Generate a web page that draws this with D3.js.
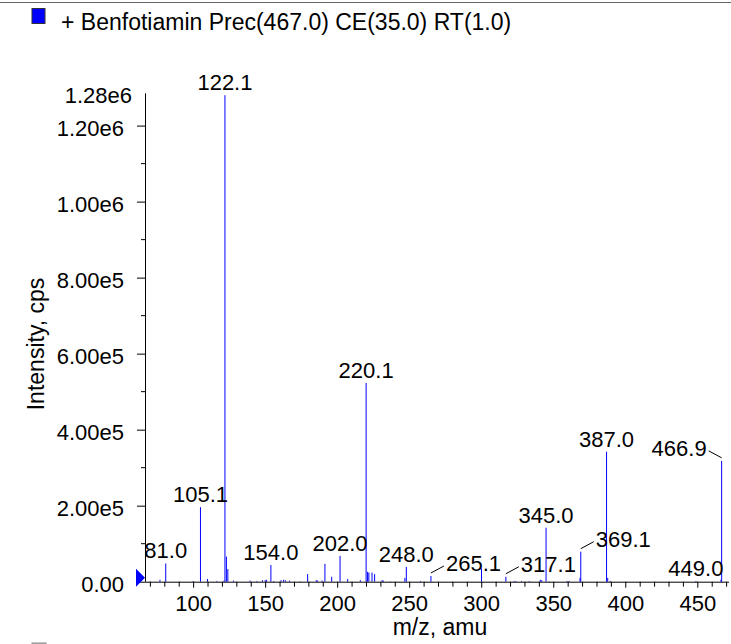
<!DOCTYPE html>
<html lang="en">
<head>
<meta charset="utf-8">
<title>Benfotiamin MS/MS</title>
<script src="https://cdn.jsdelivr.net/npm/d3@7"></script>
<style>
  body { margin: 0; background: #fff; }
  svg { display: block; font-family: "Liberation Sans", Arial, Helvetica, sans-serif; }
</style>
</head>
<body>
<div id="grafica"></div>
<script>
// spectrum: m/z and intensity (cps)
var mz = [77.0, 81.0, 100.0, 105.1, 110.0, 116.5, 121.5, 122.1, 123.1, 124.1,
          128.0, 139.5, 144.3, 148.1, 150.0, 151.0, 154.0, 156.0, 161.0, 162.8,
          164.0, 167.0, 174.4, 179.5, 185.5, 186.4, 189.5, 191.5, 196.2, 202.0,
          207.3, 216.1, 220.1, 221.1, 222.0, 224.2, 226.0, 231.2, 232.0, 237.0,
          247.0, 248.0, 257.9, 265.1, 300.2, 317.1, 322.7, 324.0, 328.0, 333.3,
          341.0, 342.0, 345.0, 347.2, 359.5, 361.0, 368.6, 369.1, 387.0, 387.8,
          389.5, 449.0, 466.4, 466.9];
var intensity = [5e3, 4.8e4, 2e3, 1.96e5, 7e3, 2e3, 3e3, 1.28e6, 6.6e4, 3.3e4,
                 3e3, 3e3, 2e3, 4e3, 4e3, 5e3, 4.4e4, 2e3, 4e3, 5e3,
                 4e3, 3e3, 1e3, 2e4, 4e3, 3e3, 3e3, 4.7e4, 1.3e4, 6.8e4,
                 7e3, 4e3, 5.23e5, 2.6e4, 2.4e4, 2.4e4, 2e4, 4e3, 3e3, 1e3,
                 1e4, 3.9e4, 2e3, 1.5e4, 3.5e4, 1.3e4, 2e3, 2e3, 2e3, 2e3,
                 5e3, 4e3, 1.42e5, 1e3, 2e3, 2e3, 1e4, 7.9e4, 3.42e5, 1e4,
                 2e3, 2e3, 5e3, 3.18e5];

// peaks carrying a label
var labelled = ["81.0", "105.1", "122.1", "154.0", "202.0", "220.1", "248.0", "265.1",
                "317.1", "345.0", "369.1", "387.0", "449.0", "466.9"];
// labels pushed aside with a short leader line (+1 right, -1 left)
var leader = { "265.1": 1, "317.1": 1, "369.1": 1, "466.9": -1 };

var xMajor = [100, 150, 200, 250, 300, 350, 400, 450];
var xMinor = d3.range(70, 471, 10);
var yMajor = [0, 2e5, 4e5, 6e5, 8e5, 1e6, 1.2e6];
var yMinor = [1e5, 3e5, 5e5, 7e5, 9e5, 1.1e6];
var yTop = 1.28e6;

var legendText = "+ Benfotiamin Prec(467.0) CE(35.0) RT(1.0)";

var w = 731, h = 644;
var pLeft = 145, pRight = 729, pBottom = 581.7, pTop = 93.3;

var svg = d3.select("#grafica").append("svg")
  .attr("width", w).attr("height", h);

var x = d3.scaleLinear().domain([66.6, 472]).range([pLeft, pRight]);
var y = d3.scaleLinear().domain([0, 1.285e6]).range([pBottom, pTop]);

// frame line at the very top
svg.append("line").attr("x1", 0).attr("x2", w).attr("y1", 2.5).attr("y2", 2.5)
  .attr("stroke", "#666").attr("stroke-width", 1.2);

// legend
svg.append("rect").attr("x", 32).attr("y", 8.5).attr("width", 13).attr("height", 15)
  .attr("fill", "#0000ff").attr("stroke", "#333");
svg.append("text").attr("x", 61).attr("y", 30).attr("font-size", 23).text(legendText);

// peaks
var peaks = mz.map(function(m, i){ return { mz: m, v: intensity[i] }; });
svg.append("g").selectAll("line")
  .data(peaks).enter().append("line")
  .attr("x1", function(d){ return x(d.mz); })
  .attr("x2", function(d){ return x(d.mz); })
  .attr("y1", y(0))
  .attr("y2", function(d){ return y(d.v); })
  .attr("stroke", "#0000ff").attr("stroke-width", 1);

// axes
var gx = svg.append("g").attr("transform", "translate(0," + y(0) + ")");
gx.call(d3.axisBottom(x).tickValues(xMinor).tickSize(5).tickFormat(""));
gx.selectAll(".tick").filter(function(d){ return xMajor.indexOf(d) >= 0; })
  .select("line").attr("y2", 6);
gx.select(".domain").attr("d", "M" + pLeft + ",0.5H" + pRight);
gx.selectAll(".tick").filter(function(d){ return xMajor.indexOf(d) >= 0; })
  .append("text").attr("y", 29).attr("fill", "#000")
  .attr("font-size", 22).attr("text-anchor", "middle")
  .text(function(d){ return d; });

var fmt = function(v){ return v === 0 ? "0.00" : d3.format(".2e")(v).replace("+", ""); };
var gy = svg.append("g").attr("transform", "translate(" + pLeft + ",0)");
gy.call(d3.axisLeft(y).tickValues(yMajor).tickSize(8).tickPadding(13)
  .tickFormat(fmt));
gy.selectAll(".tick text").attr("font-size", 22)
  .attr("dy", "0.43em").attr("fill", "#000");
gy.select(".domain").attr("d", "M0.5," + y(0) + "V" + pTop);
gy.selectAll(".minor").data(yMinor).enter().append("line")
  .attr("class", "minor")
  .attr("x1", -4).attr("x2", 0)
  .attr("y1", function(d){ return y(d); }).attr("y2", function(d){ return y(d); })
  .attr("stroke", "#000");
gy.append("text").attr("x", -13).attr("y", y(yTop)).attr("dy", "0.36em")
  .attr("text-anchor", "end").attr("font-size", 22).attr("fill", "#000")
  .text(fmt(yTop));
svg.selectAll(".domain, .tick line").attr("stroke", "#000");
gx.attr("font-family", null); gy.attr("font-family", null);

// zero marker
var y0 = y(0);
svg.append("path")
  .attr("d", "M" + (pLeft - 9) + "," + (y0 - 13) + "L" + pLeft + "," + (y0 - 4) + "L" + (pLeft - 9) + "," + (y0 + 5) + "Z")
  .attr("fill", "#0000ff");

// peak labels
peaks.forEach(function(d){
  var t = d.mz.toFixed(1);
  if (labelled.indexOf(t) < 0) return;
  var px = x(d.mz), py = y(d.v), side = leader[t];
  if (side) {
    svg.append("line").attr("x1", px).attr("y1", py - 3)
      .attr("x2", px + side * 13).attr("y2", py - 10).attr("stroke", "#000");
    svg.append("text").attr("x", px + side * 15).attr("y", py - 5)
      .attr("text-anchor", side > 0 ? "start" : "end").attr("font-size", 22).text(t);
  } else {
    svg.append("text").attr("x", px).attr("y", py - 5)
      .attr("text-anchor", "middle").attr("font-size", 22).text(t);
  }
});

// axis titles
svg.append("text").attr("x", 440).attr("y", 635).attr("text-anchor", "middle")
  .attr("font-size", 23).text("m/z, amu");
svg.append("text").attr("transform", "translate(44,344) rotate(-90)")
  .attr("text-anchor", "middle").attr("font-size", 23).text("Intensity, cps");

// next legend entry, cut off at the bottom
svg.append("rect").attr("x", 32).attr("y", 643).attr("width", 14).attr("height", 14)
  .attr("fill", "#bbb").attr("stroke", "#888");
</script>
</body>
</html>
